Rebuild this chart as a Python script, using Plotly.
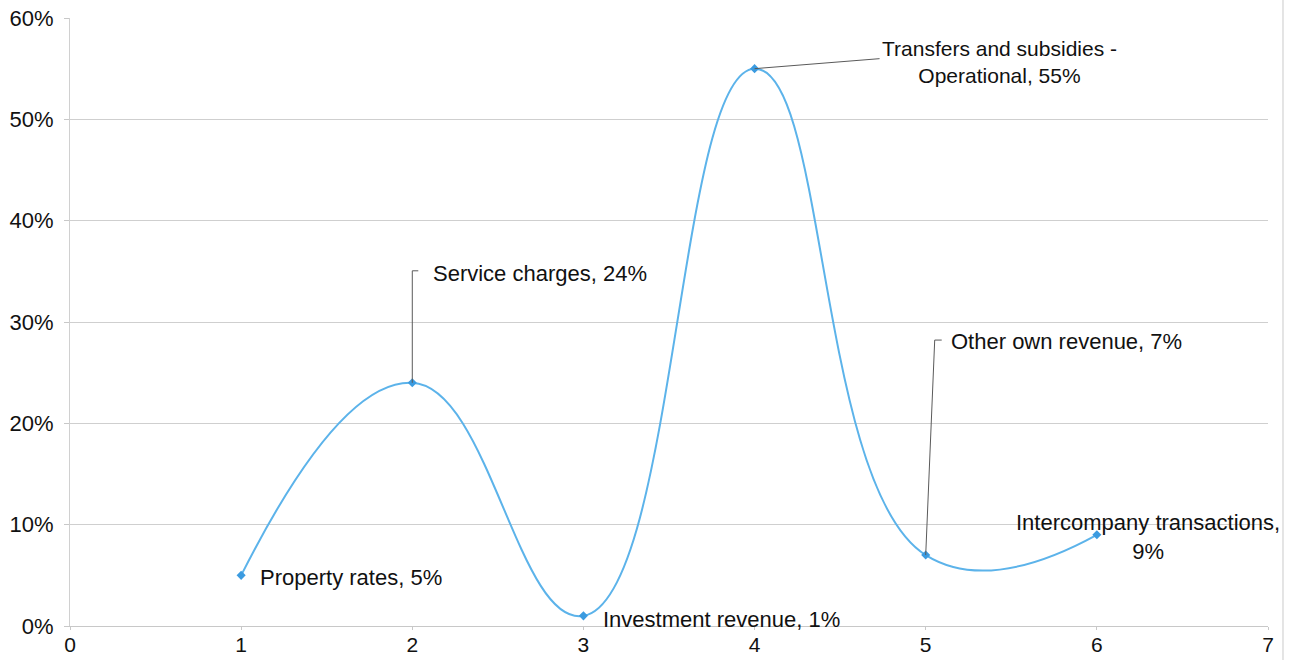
import plotly.graph_objects as go

# Revenue share by source
positions = [1, 2, 3, 4, 5, 6]
shares = [5, 24, 1, 55, 7, 9]
sources = [
    "Property rates",
    "Service charges",
    "Investment revenue",
    "Transfers and subsidies -<br>Operational",
    "Other own revenue",
    "Intercompany transactions,<br>",
]
y_ticks = [0, 10, 20, 30, 40, 50, 60]
y_tick_text = [f"{v}%" for v in y_ticks]
x_ticks = [0, 1, 2, 3, 4, 5, 6, 7]

FONT = "Liberation Sans, Arial, sans-serif"
FS = 22
LEADER = "#5a5a5a"

fig = go.Figure()
fig.add_trace(go.Scatter(
    x=positions, y=shares,
    mode="lines+markers",
    line=dict(color="#5cb3ea", width=2, shape="spline", smoothing=1.3),
    marker=dict(symbol="diamond", size=7, color="#3b9be0"),
    showlegend=False,
    hoverinfo="skip",
))

# label placement: (xshift, yshift, xanchor, align, font size)
placement = [
    (17, -2, "left", "left", FS),
    (19, 109, "left", "left", FS),
    (18, -4, "left", "left", FS),
    (245, 7, "center", "center", 21),
    (23, 214, "left", "left", FS),
    (51, -2, "center", "center", FS),
]

annotations = []
for x, v, name, (dx, dy, xa, al, fs) in zip(positions, shares, sources, placement):
    if name.endswith("<br>"):
        text = f"{name}{v}%"
    else:
        text = f"{name}, {v}%"
    annotations.append(dict(
        x=x, y=v, xref="x", yref="y", text=text, showarrow=False,
        xanchor=xa, yanchor="middle", align=al, xshift=dx, yshift=dy,
        font=dict(family=FONT, size=fs, color="#111111"),
    ))

# leader lines drawn in pixel offsets from the labelled points
leaders = [
    (2, 24, "M0,0 L0,112 L6,112"),
    (4, 55, "M0,0 L125,10"),
    (5, 7, "M0,0 L9,215 L16,215"),
]
shapes = []
for x, v, path in leaders:
    shapes.append(dict(
        type="path", xref="x", yref="y", xsizemode="pixel", ysizemode="pixel",
        xanchor=x, yanchor=v, path=path,
        line=dict(color=LEADER, width=1),
    ))
# right frame edge
shapes.append(dict(type="line", xref="paper", yref="paper",
                   x0=1.0125, x1=1.0125, y0=-0.06, y1=1.03,
                   line=dict(color="#dcdcdc", width=1.5)))

fig.update_layout(
    width=1293, height=660,
    margin=dict(l=70, r=25, t=18, b=34),
    paper_bgcolor="white", plot_bgcolor="white",
    font=dict(family=FONT, size=FS, color="#111111"),
    annotations=annotations,
    shapes=shapes,
    xaxis=dict(
        range=[0, 7], tickvals=x_ticks, ticks="outside", ticklen=3,
        tickcolor="#c8c8c8", showgrid=False, zeroline=False,
        showline=True, linecolor="#c8c8c8", linewidth=1, automargin=False,
        ticklabelstandoff=-3,
        tickfont=dict(family=FONT, size=21, color="#111111"),
    ),
    yaxis=dict(
        range=[0, 60], tickvals=y_ticks, ticktext=y_tick_text, ticks="outside",
        ticklen=5, tickcolor="#c8c8c8", showgrid=True, gridcolor="#cfcfcf",
        gridwidth=1, zeroline=False, showline=True, linecolor="#d0d0d0",
        linewidth=1, ticklabelstandoff=6, automargin=False,
        tickfont=dict(family=FONT, size=FS, color="#111111"),
    ),
)

fig.write_html("out.html")
